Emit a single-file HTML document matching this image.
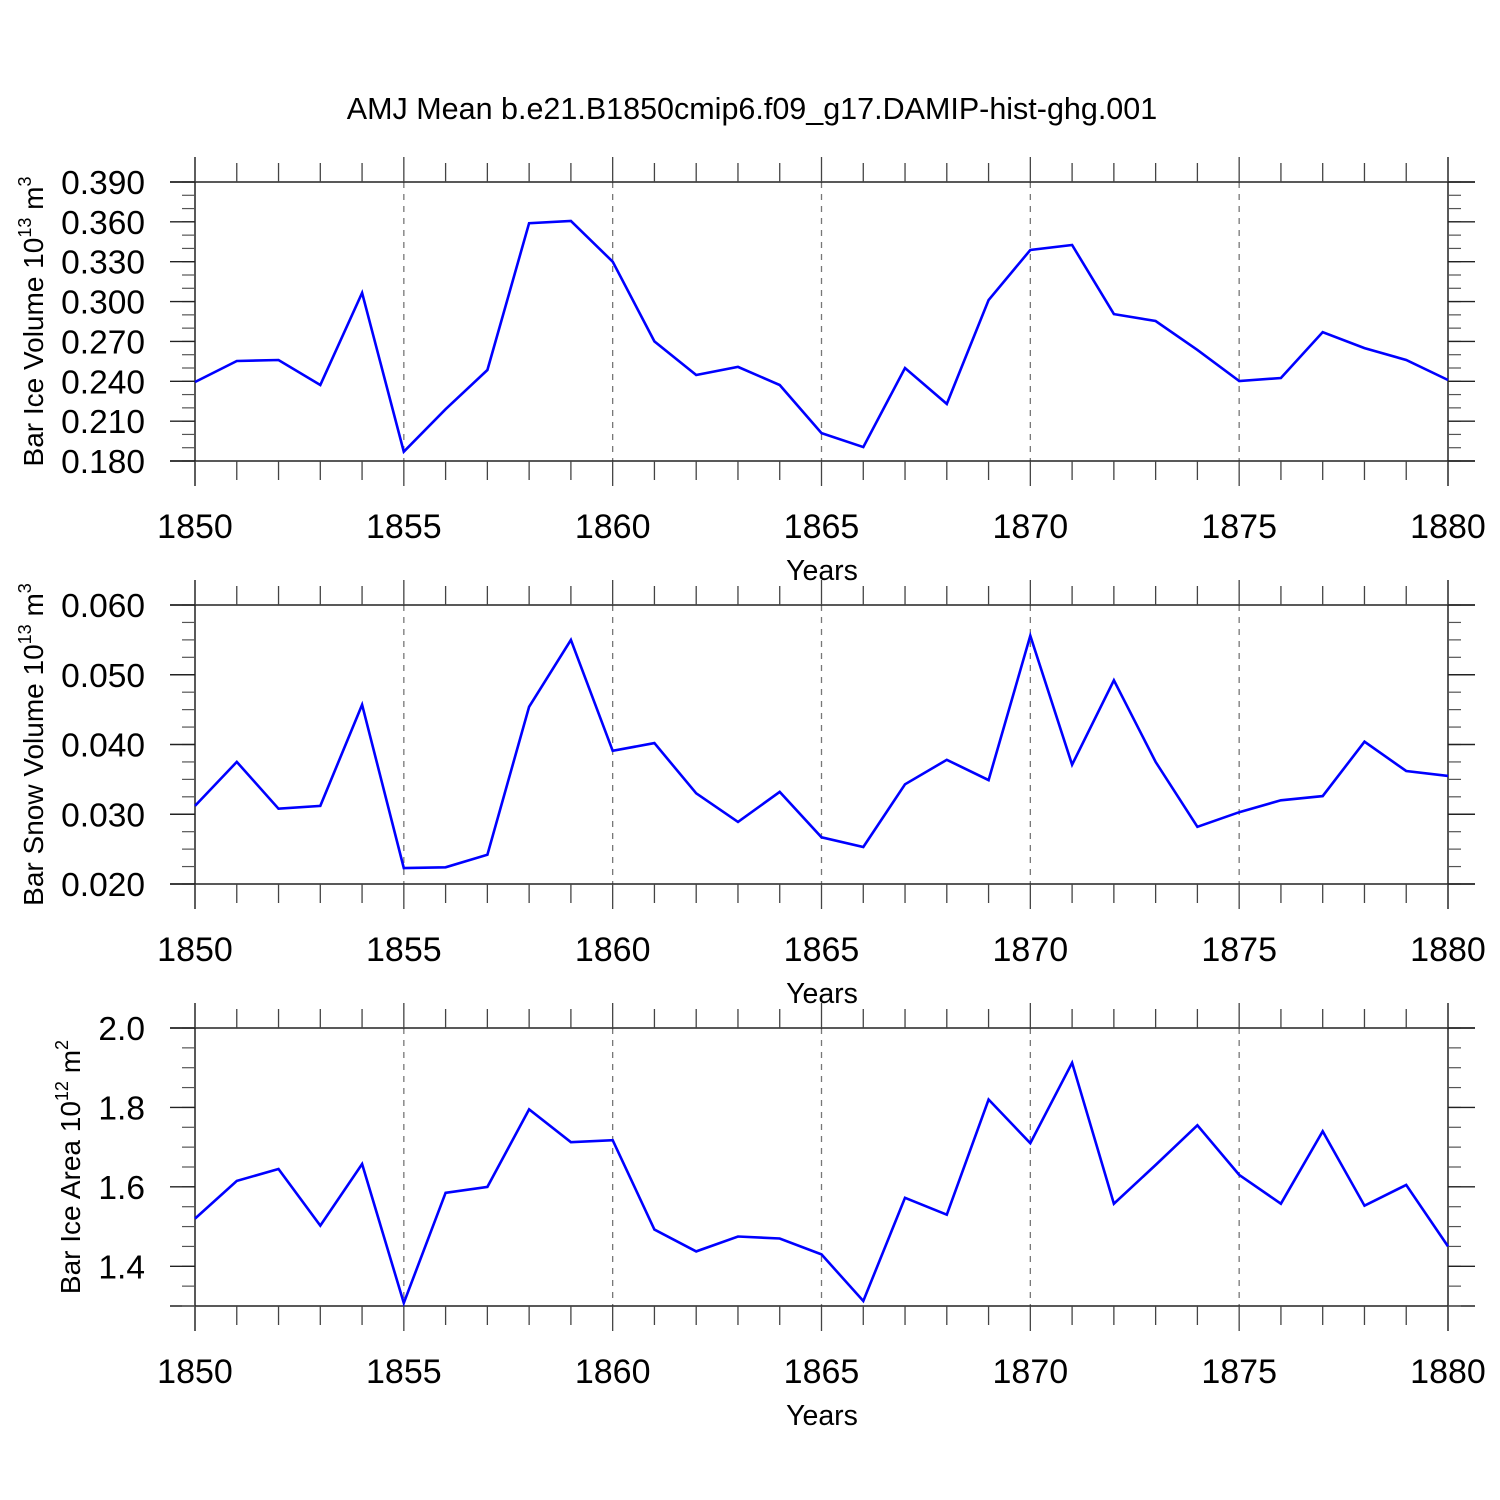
<!DOCTYPE html>
<html><head><meta charset="utf-8"><style>
body{margin:0;background:#fff}
svg{display:block;font-family:"Liberation Sans",sans-serif}
</style></head><body>
<svg id="chart" width="1500" height="1500" viewBox="0 0 1500 1500" xmlns="http://www.w3.org/2000/svg">
<text x="752" y="119" font-size="30.5" text-anchor="middle">AMJ Mean b.e21.B1850cmip6.f09_g17.DAMIP-hist-ghg.001</text>
</svg>
<script>
const years = [1850,1851,1852,1853,1854,1855,1856,1857,1858,1859,1860,1861,1862,1863,1864,1865,1866,1867,1868,1869,1870,1871,1872,1873,1874,1875,1876,1877,1878,1879,1880];
const iceVolume = [0.2395,0.2553,0.256,0.2372,0.3065,0.187,0.219,0.2485,0.359,0.3607,0.330,0.270,0.2447,0.2508,0.2372,0.201,0.1905,0.250,0.223,0.3012,0.3388,0.3426,0.2906,0.2854,0.2636,0.2402,0.2425,0.277,0.265,0.256,0.241];
const snowVolume = [0.0312,0.0375,0.0308,0.0312,0.0457,0.0223,0.0224,0.0242,0.0454,0.055,0.0391,0.0402,0.0330,0.0289,0.0332,0.0267,0.0253,0.0343,0.0378,0.0349,0.0556,0.0371,0.0492,0.0375,0.0282,0.0303,0.0320,0.0326,0.0404,0.0362,0.0355];
const iceArea = [1.52,1.615,1.645,1.5025,1.6575,1.3075,1.585,1.60,1.795,1.7125,1.7175,1.4925,1.4375,1.475,1.47,1.43,1.3125,1.5725,1.53,1.82,1.71,1.9125,1.5575,1.655,1.755,1.63,1.5575,1.74,1.5525,1.605,1.45];
const xTickLabels = ["1850","1855","1860","1865","1870","1875","1880"];
const iceVolTicks = ["0.180","0.210","0.240","0.270","0.300","0.330","0.360","0.390"];
const snowVolTicks = ["0.020","0.030","0.040","0.050","0.060"];
const iceAreaTicks = ["1.4","1.6","1.8","2.0"];

const svg = document.getElementById('chart');
const NS = 'http://www.w3.org/2000/svg';
function mk(tag, attrs, parent){const e=document.createElementNS(NS,tag);for(const k in attrs)e.setAttribute(k,attrs[k]);(parent||svg).appendChild(e);return e;}
const X0=195, X1=1448, xMin=1850, xMax=1880;
const xs = v => X0 + (v-xMin)/(xMax-xMin)*(X1-X0);

function panel(name, top, bot, yMin, yMax, minorStep, ticks, values, titleHTML, titleX){
  const g = mk('g',{});
  
  
  const ys = v => bot - (v-yMin)/(yMax-yMin)*(bot-top);
  for (let i=1;i<xTickLabels.length-1;i++){
    const x = xs(+xTickLabels[i]);
    const l = mk('line',{x1:x,x2:x,y1:top,y2:bot,stroke:'#777','stroke-width':1.3,'stroke-dasharray':'6,6'},g);
    
    
  }
  mk('line',{x1:170,x2:1475,y1:top,y2:top,stroke:'#222','stroke-width':1.5},g);
  mk('line',{x1:170,x2:1475,y1:bot,y2:bot,stroke:'#222','stroke-width':1.5},g);
  mk('line',{x1:X0,x2:X0,y1:top-25,y2:bot+25,stroke:'#222','stroke-width':1.5},g);
  mk('line',{x1:X1,x2:X1,y1:top-25,y2:bot+25,stroke:'#222','stroke-width':1.5},g);
  for (let yr=xMin; yr<=xMax; yr++){
    const x=xs(yr); const major = (yr%5===0); const len = major?25:19;
    mk('line',{x1:x,x2:x,y1:top-len,y2:top,stroke:'#444','stroke-width':1.3},g);
    mk('line',{x1:x,x2:x,y1:bot,y2:bot+len,stroke:'#444','stroke-width':1.3},g);
  }
  xTickLabels.forEach(t=>{
    const e=mk('text',{x:xs(+t),y:bot+77,'font-size':34,'text-anchor':'middle'},g);
    e.textContent=t;
    
    
  });
  const xt=mk('text',{x:822,y:bot+119,'font-size':28.5,'text-anchor':'middle'},g);
  xt.textContent='Years';
  
  
  const n = Math.round((yMax-yMin)/minorStep);
  for (let i=0;i<=n;i++){
    const y=ys(yMin+i*minorStep);
    mk('line',{x1:182,x2:X0,y1:y,y2:y,stroke:'#555','stroke-width':1.2},g);
    mk('line',{x1:X1,x2:1461,y1:y,y2:y,stroke:'#555','stroke-width':1.2},g);
  }
  ticks.forEach(t=>{
    const y=ys(+t);
    mk('line',{x1:170,x2:X0,y1:y,y2:y,stroke:'#222','stroke-width':1.4},g);
    mk('line',{x1:X1,x2:1475,y1:y,y2:y,stroke:'#222','stroke-width':1.4},g);
    const e=mk('text',{x:145,y:y+12,'font-size':33.5,'text-anchor':'end'},g);
    e.textContent=t;
    
    
  });
  const cy=(top+bot)/2;
  const yt=mk('text',{x:titleX,y:cy,'font-size':28,'text-anchor':'middle',transform:`rotate(-90 ${titleX} ${cy})`},g);
  yt.innerHTML=titleHTML;
  
  
  const pts = values.map((v,i)=>xs(years[i]).toFixed(1)+','+ys(v).toFixed(1)).join(' ');
  const pl=mk('polyline',{points:pts,fill:'none',stroke:'#0000ff','stroke-width':2.6,'stroke-linejoin':'miter'},g);
  
  
}
panel('ice-volume',182,461,0.18,0.39,0.01,iceVolTicks,iceVolume,'Bar Ice Volume 10<tspan font-size="18" dy="-12">13</tspan><tspan dy="12"> m</tspan><tspan font-size="18" dy="-12">3</tspan>',43);
panel('snow-volume',605,884,0.02,0.06,0.0025,snowVolTicks,snowVolume,'Bar Snow Volume 10<tspan font-size="18" dy="-12">13</tspan><tspan dy="12"> m</tspan><tspan font-size="18" dy="-12">3</tspan>',43);
panel('ice-area',1028,1306,1.3,2.0,0.05,iceAreaTicks,iceArea,'Bar Ice Area 10<tspan font-size="18" dy="-12">12</tspan><tspan dy="12"> m</tspan><tspan font-size="18" dy="-12">2</tspan>',80);
</script>
</body></html>
